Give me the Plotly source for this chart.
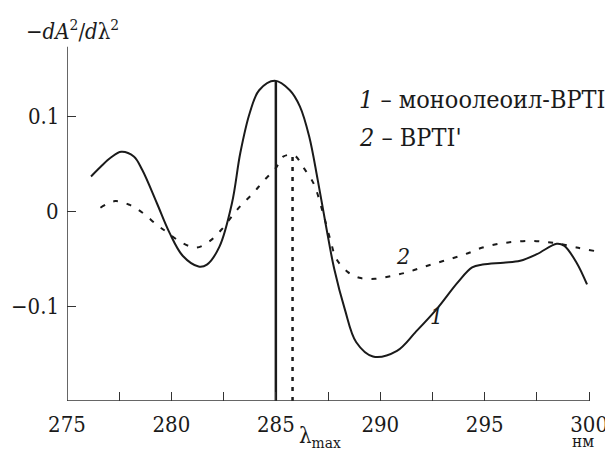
import plotly.graph_objects as go

# curve 1: monooleoyl-BPTI (solid)
x1 = [276.15, 276.6, 277.1, 277.6, 278.2, 278.6, 279.3, 279.9, 280.55, 281.3, 281.7,
      282.3, 282.9, 283.3, 283.75, 284.2, 284.95, 285.67, 286.15, 286.6, 287.0, 287.4,
      287.8, 288.3, 288.85, 289.65, 290.8, 291.7, 292.7, 293.7, 294.4, 294.9, 295.9,
      296.7, 297.5, 298.45, 298.8, 299.4, 299.9]
y1 = [0.037, 0.047, 0.057, 0.063, 0.058, 0.044, 0.009, -0.022, -0.047, -0.058, -0.056,
      -0.037, 0.009, 0.062, 0.104, 0.128, 0.138, 0.128, 0.111, 0.079, 0.034, -0.015,
      -0.061, -0.103, -0.138, -0.153, -0.147, -0.127, -0.103, -0.075, -0.059, -0.056, -0.054,
      -0.052, -0.045, -0.034, -0.036, -0.054, -0.077]

# curve 2: BPTI' (dashed)
x2 = [276.6, 277.3, 278.0, 278.6, 279.3, 279.8, 280.5, 281.2, 281.85, 282.4, 282.9,
      283.35, 283.9, 284.4, 285.0, 285.35, 285.9, 286.3, 286.8, 287.25, 287.6, 287.9,
      288.45, 289.0, 289.75, 290.55, 291.3, 292.0, 292.75, 293.5, 294.2, 294.9,
      295.7, 296.4, 297.2, 297.9, 298.6, 299.4, 300.35]
y2 = [0.004, 0.011, 0.007, -0.001, -0.014, -0.022, -0.033, -0.038, -0.031, -0.019, -0.005,
      0.007, 0.019, 0.032, 0.046, 0.058, 0.059, 0.047, 0.030, -0.001, -0.029, -0.050,
      -0.064, -0.070, -0.071, -0.068, -0.064, -0.059, -0.054, -0.049, -0.044, -0.038,
      -0.034, -0.032, -0.031, -0.032, -0.034, -0.038, -0.042]

# lambda_max markers
lam1, lam1_top = 285.0, 0.138
lam2, lam2_top = 285.8, 0.059
y_bottom = -0.2
y_top_axis = 0.174

x_ticks = [275, 280, 285, 290, 295, 300]
y_ticks = [0.1, 0, -0.1]
y_tick_labels = ["0.1", "0", "−0.1"]

INK = "#1a1a1a"
FONT = "DejaVu Serif Condensed, DejaVu Serif"

fig = go.Figure()
fig.add_trace(go.Scatter(x=x1, y=y1, mode="lines", line=dict(color=INK, width=2, shape="spline", smoothing=1.0)))
fig.add_trace(go.Scatter(x=x2, y=y2, mode="lines", line=dict(color=INK, width=2, dash="5px,9px", shape="spline", smoothing=1.0)))
fig.add_trace(go.Scatter(x=[lam1, lam1], y=[y_bottom, lam1_top], mode="lines", line=dict(color=INK, width=2.5)))
fig.add_trace(go.Scatter(x=[lam2, lam2], y=[y_bottom, lam2_top], mode="lines", line=dict(color=INK, width=2.5, dash="4px,6px")))

# axis lines
fig.add_shape(type="line", xref="x", yref="y", x0=275, x1=300, y0=y_bottom, y1=y_bottom, line=dict(color="#333", width=1.5))
fig.add_shape(type="line", xref="x", yref="y", x0=275, x1=275, y0=y_bottom, y1=y_top_axis, line=dict(color="#333", width=1.5))

# the page body adds an 8px offset, so margins compensate for it
fig.update_layout(
    width=613, height=457,
    margin=dict(l=59, r=11, t=33, b=64),
    paper_bgcolor="white", plot_bgcolor="white",
    showlegend=False,
    font=dict(family=FONT, size=20, color=INK),
    xaxis=dict(range=[275, 301], showgrid=False, zeroline=False, showline=False,
               tickvals=x_ticks, ticktext=[str(v) for v in x_ticks],
               ticks="inside", ticklen=9, tickwidth=1.3, tickcolor="#333",
               ticklabeloverflow="allow", ticklabelstandoff=8,
               minor=dict(dtick=2.5, tick0=275, ticks="inside", ticklen=9, tickwidth=1.3, tickcolor="#333", showgrid=False),
               tickfont=dict(family=FONT, size=22, color=INK)),
    yaxis=dict(range=[-0.2, 0.18], showgrid=False, zeroline=False, showline=False,
               tickvals=y_ticks, showticklabels=False,
               ticks="inside", ticklen=9, tickwidth=1.3, tickcolor="#333"),
)

# y tick labels placed close to the axis, as in the original
for yv, lab in zip(y_ticks, y_tick_labels):
    fig.add_annotation(xref="paper", yref="y", x=-0.011, y=yv, xanchor="right", yanchor="middle",
                       text=lab, showarrow=False, font=dict(family=FONT, size=22, color=INK))

fig.add_annotation(xref="paper", yref="paper", x=-0.08, y=1.03, xanchor="left", yanchor="middle",
                   text="−<i>dA</i><sup>2</sup>/<i>d</i>λ<sup>2</sup>", showarrow=False,
                   font=dict(family=FONT, size=22, color=INK))
fig.add_annotation(xref="x", yref="y", x=288.9, y=0.118, xanchor="left", yanchor="middle",
                   text="<i>1</i> – моноолеоил-BPTI", showarrow=False, font=dict(family=FONT, size=25, color=INK))
fig.add_annotation(xref="x", yref="y", x=288.9, y=0.078, xanchor="left", yanchor="middle",
                   text="<i>2</i> – BPTI'", showarrow=False, font=dict(family=FONT, size=25, color=INK))
fig.add_annotation(xref="x", yref="y", x=291.1, y=-0.047, text="<i>2</i>", showarrow=False,
                   font=dict(family=FONT, size=23, color=INK))
fig.add_annotation(xref="x", yref="y", x=292.7, y=-0.11, text="<i>1</i>", showarrow=False,
                   font=dict(family=FONT, size=23, color=INK))
fig.add_annotation(xref="x", yref="paper", x=287.1, y=-0.1, yanchor="middle",
                   text="λ<sub>max</sub>", showarrow=False, font=dict(family=FONT, size=22, color=INK))
fig.add_annotation(xref="x", yref="paper", x=299.7, y=-0.112, yanchor="middle",
                   text="нм", showarrow=False, font=dict(family=FONT, size=17, color=INK))

fig.write_html("out.html")
